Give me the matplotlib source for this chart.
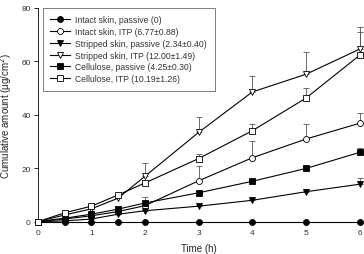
import matplotlib
matplotlib.use("Agg")
import matplotlib.pyplot as plt
import numpy as np

plt.rcParams['font.family'] = ['Liberation Sans', 'DejaVu Sans']

time_h = [0, 0.5, 1, 1.5, 2, 3, 4, 5, 6]

intact_passive = [0, 0, 0, 0, 0, 0, 0, 0, 0]
intact_passive_err = [0, 0, 0, 0, 0, 0, 0, 0, 0]
intact_itp = [0, 1.0, 2.2, 3.8, 6.0, 15.3, 23.9, 30.9, 36.8]
intact_itp_err = [0, 0.2, 0.3, 0.5, 1.0, 5.6, 6.3, 5.6, 3.8]
stripped_passive = [0, 0.3, 1.0, 2.8, 4.1, 5.8, 8.0, 11.2, 14.0]
stripped_passive_err = [0, 0.1, 0.2, 0.3, 0.4, 0.3, 0.5, 1.0, 2.2]
stripped_itp = [0, 2.5, 4.8, 8.8, 17.0, 33.4, 48.5, 55.1, 64.5]
stripped_itp_err = [0, 0.3, 0.5, 0.8, 4.8, 5.6, 5.8, 8.5, 8.4]
cellulose_passive = [0, 1.3, 2.8, 4.7, 7.0, 10.8, 15.1, 19.9, 25.9]
cellulose_passive_err = [0, 0.2, 0.3, 0.4, 2.2, 0.5, 0.5, 0.8, 1.5]
cellulose_itp = [0, 3.3, 5.8, 10.0, 14.5, 23.6, 34.0, 46.2, 62.2]
cellulose_itp_err = [0, 0.2, 0.3, 0.5, 0.6, 1.8, 2.7, 3.9, 8.8]

labels = [
    "Intact skin, passive (0)",
    "Intact skin, ITP (6.77\u00b10.88)",
    "Stripped skin, passive (2.34\u00b10.40)",
    "Stripped skin, ITP (12.00\u00b11.49)",
    "Cellulose, passive (4.25\u00b10.30)",
    "Cellulose, ITP (10.19\u00b11.26)",
]
x_ticks = [0, 1, 2, 3, 4, 5, 6]
y_ticks = [0, 20, 40, 60, 80]

series = [
    (intact_passive, intact_passive_err, 'o', 'black'),
    (intact_itp, intact_itp_err, 'o', 'white'),
    (stripped_passive, stripped_passive_err, 'v', 'black'),
    (stripped_itp, stripped_itp_err, 'v', 'white'),
    (cellulose_passive, cellulose_passive_err, 's', 'black'),
    (cellulose_itp, cellulose_itp_err, 's', 'white'),
]

fig = plt.figure(figsize=(3.64, 2.55), dpi=100)
ax = fig.add_axes([0.1036, 0.1267, 0.8844, 0.8393])

for (vals, err, mk, fc), lab in zip(series, labels):
    lower = np.zeros(len(err))
    ax.errorbar(time_h, vals, yerr=[lower, err], fmt='none', ecolor='#555555',
                elinewidth=0.6, capsize=2, capthick=0.6, clip_on=False, zorder=2)
    ms = 4.3 if mk != 'v' else 4.8
    ax.plot(time_h, vals, color='black', lw=0.8, marker=mk, markersize=ms,
            markerfacecolor=fc, markeredgecolor='black', markeredgewidth=0.6,
            label=lab, clip_on=False, zorder=3)

ax.set_xlim(0, 6)
ax.set_ylim(0, 80)
ax.set_xticks(x_ticks)
ax.set_yticks(y_ticks)
ax.tick_params(axis='x', length=0, pad=5, labelsize=6, colors='#333333')
ax.tick_params(axis='y', length=3, width=0.6, pad=2, labelsize=6, colors='#333333')
ax.tick_params(axis='y', color='black')
for s in ['top', 'right', 'bottom']:
    ax.spines[s].set_visible(False)
ax.spines['left'].set_linewidth(0.6)

ax.set_xlabel("Time (h)", fontsize=7, labelpad=5, color='#222222')
ax.set_ylabel("Cumulative amount (\u03bcg/cm$^2$)", fontsize=7, labelpad=5, color='#222222')

leg = ax.legend(loc='upper left', bbox_to_anchor=(0.015, 1.0), fontsize=6.2,
                frameon=True, fancybox=False, edgecolor='#444444',
                handlelength=2.3, handletextpad=0.6, labelspacing=0.32,
                borderpad=0.9, borderaxespad=0)
leg.get_frame().set_linewidth(0.6)
for t in leg.get_texts():
    t.set_color('#333333')

fig.savefig("out.png", dpi=100)
